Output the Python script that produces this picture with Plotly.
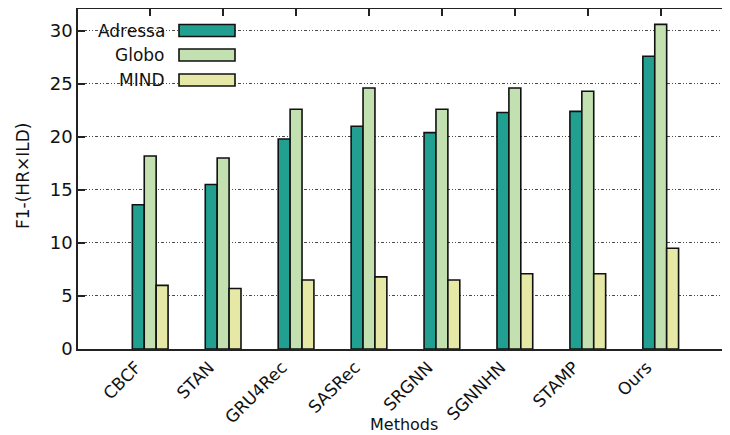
import plotly.graph_objects as go

methods = ["CBCF", "STAN", "GRU4Rec", "SASRec", "SRGNN", "SGNNHN", "STAMP", "Ours"]
series_names = ["Adressa", "Globo", "MIND"]
adressa = [13.6, 15.5, 19.8, 21.0, 20.4, 22.3, 22.4, 27.6]
globo = [18.2, 18.0, 22.6, 24.6, 22.6, 24.6, 24.3, 30.6]
mind = [6.0, 5.7, 6.5, 6.8, 6.5, 7.1, 7.1, 9.5]
y_ticks = [0, 5, 10, 15, 20, 25, 30]

colors = ["#21a092", "#c2e0b0", "#e6e8a5"]
values = [adressa, globo, mind]

FONT = "DejaVu Sans"
INK = "#111111"

fig = go.Figure()
for name, vals, col in zip(series_names, values, colors):
    fig.add_trace(go.Bar(
        x=methods, y=vals, name=name,
        marker=dict(color=col, line=dict(color=INK, width=1.6)),
        showlegend=False,
    ))

# page has an 8px body margin; plot area in page pixels: x 78..730, y 9..349
OFF = 8
W, H = 730 - OFF, 435 - OFF
PL, PR, PT, PB = 78, 730, 9, 349
pw = PR - PL
ph = PB - PT

def px_x(p):
    return (p - PL) / pw

def px_y(p):
    return (PB - p) / ph

shapes = []
annotations = []
# white mask behind legend (hides gridlines)
shapes.append(dict(type="rect", xref="paper", yref="paper",
                   x0=px_x(PL + 1), x1=px_x(243), y0=px_y(95), y1=px_y(PT + 1),
                   fillcolor="white", line=dict(width=0), layer="between"))
row_y = [30.5, 55, 80]
for name, col, ry in zip(series_names, colors, row_y):
    shapes.append(dict(type="rect", xref="paper", yref="paper",
                       x0=px_x(179), x1=px_x(235), y0=px_y(ry + 6), y1=px_y(ry - 6),
                       fillcolor=col, line=dict(color=INK, width=1.6), layer="above"))
    annotations.append(dict(xref="paper", yref="paper", x=px_x(167), y=px_y(ry),
                            xanchor="right", yanchor="middle", text=name, showarrow=False,
                            font=dict(family=FONT, size=17, color=INK)))

# axis titles
annotations.append(dict(xref="paper", yref="paper", x=px_x(404), y=px_y(424),
                        xanchor="center", yanchor="middle", text="Methods", showarrow=False,
                        font=dict(family=FONT, size=16, color=INK)))
annotations.append(dict(xref="paper", yref="paper", x=px_x(23), y=px_y(176),
                        xanchor="center", yanchor="middle", text="F1-(HR×ILD)", showarrow=False,
                        textangle=-90, font=dict(family=FONT, size=17, color=INK)))

fig.update_layout(
    width=W, height=H,
    margin=dict(l=PL - OFF, r=0, t=PT - OFF, b=435 - PB, autoexpand=False),
    paper_bgcolor="white", plot_bgcolor="white",
    barmode="group", bargap=0.51, bargroupgap=0.0,
    font=dict(family=FONT, size=17, color=INK),
    shapes=shapes, annotations=annotations,
    xaxis=dict(
        range=[-0.99, 7.95],
        showline=True, linecolor="#222222", linewidth=1.5, mirror="ticks",
        ticks="inside", ticklen=7, tickcolor="#222222", tickwidth=1.5,
        tickangle=-45, tickfont=dict(family=FONT, size=17, color=INK),
        ticklabelshift=-14,
        showgrid=False, layer="below traces", automargin=False,
    ),
    yaxis=dict(
        range=[0, 32.05], tickvals=y_ticks,
        showline=True, linecolor="#222222", linewidth=1.5, mirror=False,
        ticks="inside", ticklen=7, tickcolor="#222222", tickwidth=1.5,
        showgrid=True, gridcolor="#4a4a4a", gridwidth=1, griddash="1px,2px,1px,2px,3px,2px",
        zeroline=False, tickfont=dict(family=FONT, size=18, color=INK),
        automargin=False,
    ),
)

fig.write_html("out.html")
